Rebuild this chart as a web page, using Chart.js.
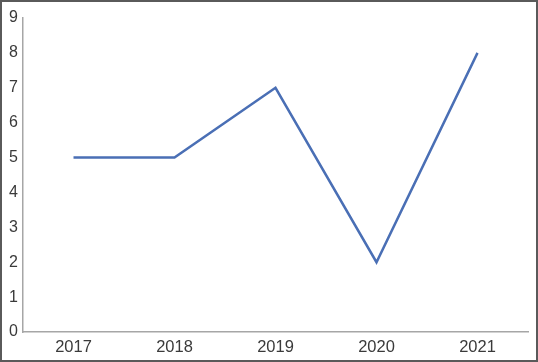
<!DOCTYPE html>
<html>
<head>
<meta charset="utf-8">
<script src="https://cdn.jsdelivr.net/npm/chart.js@4"></script>
<style>
  html, body { margin: 0; padding: 0; background: #fff; }
  #wrap { width: 538px; height: 362px; box-sizing: border-box; border: 2px solid #5a5a5a; }
  canvas { display: block; }
</style>
</head>
<body>
<div id="wrap"><canvas id="chart" width="534" height="358"></canvas></div>
<script>
const years = ["2017", "2018", "2019", "2020", "2021"];
const counts = [5, 5, 7, 2, 8];
const yTicks = [0, 1, 2, 3, 4, 5, 6, 7, 8, 9];

const ctx = document.getElementById("chart").getContext("2d");
new Chart(ctx, {
  type: "line",
  data: {
    labels: years,
    datasets: [{
      data: counts,
      borderColor: "#4a6fb5",
      borderWidth: 2.5,
      pointRadius: 0,
      tension: 0,
      fill: false
    }]
  },
  options: {
    responsive: false,
    animation: false,
    layout: { padding: { top: 16, right: 8, left: 0, bottom: 0 } },
    plugins: { legend: { display: false }, tooltip: { enabled: false } },
    scales: {
      x: {
        offset: true,
        grid: { display: false, drawTicks: false },
        border: { display: true, color: "#a6a6a6", width: 1.5 },
        ticks: { color: "#3a3a3a", font: { family: "Liberation Sans, Arial", size: 16.5 }, padding: 6 },
        afterFit: s => { s.height = 28; }
      },
      y: {
        min: 0,
        max: 9,
        afterBuildTicks: s => { s.ticks = yTicks.map(v => ({ value: v })); },
        grid: { display: false, drawTicks: false },
        border: { display: true, color: "#a6a6a6", width: 1.5 },
        ticks: { color: "#3a3a3a", font: { family: "Liberation Sans, Arial", size: 16 }, padding: 5 },
        afterFit: s => { s.width = 21; }
      }
    }
  }
});
</script>
</body>
</html>
